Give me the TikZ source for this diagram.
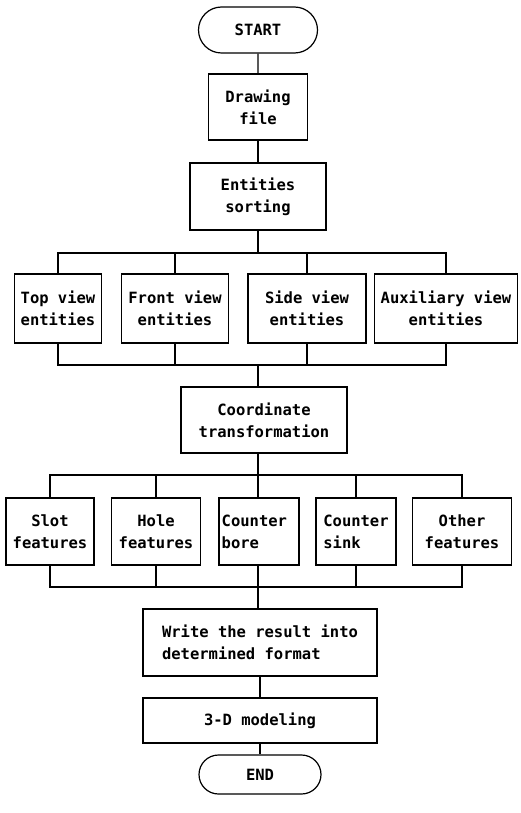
\documentclass[tikz,border=0pt]{standalone}
\usepackage{fontspec}
\setmonofont{DejaVu Sans Mono}
\usetikzlibrary{positioning,shapes.misc}
\tikzset{
  ln/.style={line width=1.2pt,black},
  blk/.style={draw,line width=1.2pt,inner sep=2pt,align=center,
    font=\ttfamily\bfseries\fontsize{15.5}{22}\selectfont},
  term/.style={blk,rounded rectangle},
  row1/.style={blk,minimum height=69pt},
  row2/.style={blk,minimum height=67pt}
}
\begin{document}
\begin{tikzpicture}[x=1pt,y=-1pt]
\useasboundingbox (0,0) rectangle (520,813);
% main column
\node[term,minimum width=123pt,minimum height=46pt] (start) at (258,30) {START};
\node[blk,minimum width=99pt,minimum height=66pt] (df) at (258,107) {Drawing\\file};
\node[blk,minimum width=136pt,minimum height=67pt] (es) at (258,196.5) {Entities\\sorting};
% views
\node[row1,minimum width=87pt] (tv) at (58,308.5) {Top view\\entities};
\node[row1,minimum width=107pt] (fv) at (175,308.5) {Front view\\entities};
\node[row1,minimum width=118pt] (sv) at (307,308.5) {Side view\\entities};
\node[row1,minimum width=143pt] (av) at (446,308.5) {Auxiliary view\\entities};
\node[blk,minimum width=166pt,minimum height=66pt] (ct) at (264,420) {Coordinate\\transformation};
% features
\node[row2,minimum width=88pt] (sf) at (50,531.5) {Slot\\features};
\node[row2,minimum width=89pt] (hf) at (156,531.5) {Hole\\features};
\node[row2,minimum width=80pt,align=left] (cb) at (259,531.5) {Counter\\bore\phantom{ }\phantom{bbb}};
\node[row2,minimum width=80pt] (cs) at (356,531.5) {Counter\\sink\phantom{bbb}};
\node[row2,minimum width=99pt] (of) at (462,531.5) {Other\\features};
\node[blk,minimum width=234pt,minimum height=67pt] (wr) at (260,642.5) {Write the result into\\determined format\phantom{bbbb}};
\node[blk,minimum width=234pt,minimum height=45pt] (md) at (260,720.5) {3-D modeling};
\node[term,minimum width=126pt,minimum height=39pt] (end) at (260,774.5) {END};
% bus points
\coordinate (b1) at (258,253);
\coordinate (b2) at (258,365);
\coordinate (b3) at (258,475);
\coordinate (b4) at (258,587);
% connectors
\draw[ln] (start) -- (df);
\draw[ln] (df) -- (df |- es.north);
\draw[ln] (b1 |- es.south) -- (b1);
\draw[ln] (tv.north) |- (b1) -| (av.north);
\draw[ln] (fv.north) |- (b1);
\draw[ln] (sv.north) |- (b1);
\draw[ln] (tv.south) |- (b2) -| (av.south);
\draw[ln] (fv.south) |- (b2);
\draw[ln] (sv.south) |- (b2);
\draw[ln] (b2) -- (b2 |- ct.north);
\draw[ln] (b3 |- ct.south) -- (b3);
\draw[ln] (sf.north) |- (b3) -| (of.north);
\draw[ln] (hf.north) |- (b3);
\draw[ln] (cs.north) |- (b3);
\draw[ln] (b3) -- (b3 |- cb.north);
\draw[ln] (sf.south) |- (b4) -| (of.south);
\draw[ln] (hf.south) |- (b4);
\draw[ln] (cs.south) |- (b4);
\draw[ln] (b4 |- cb.south) -- (b4);
\draw[ln] (b4) -- (b4 |- wr.north);
\draw[ln] (wr) -- (md);
\draw[ln] (md) -- (end);
\end{tikzpicture}
\end{document}
